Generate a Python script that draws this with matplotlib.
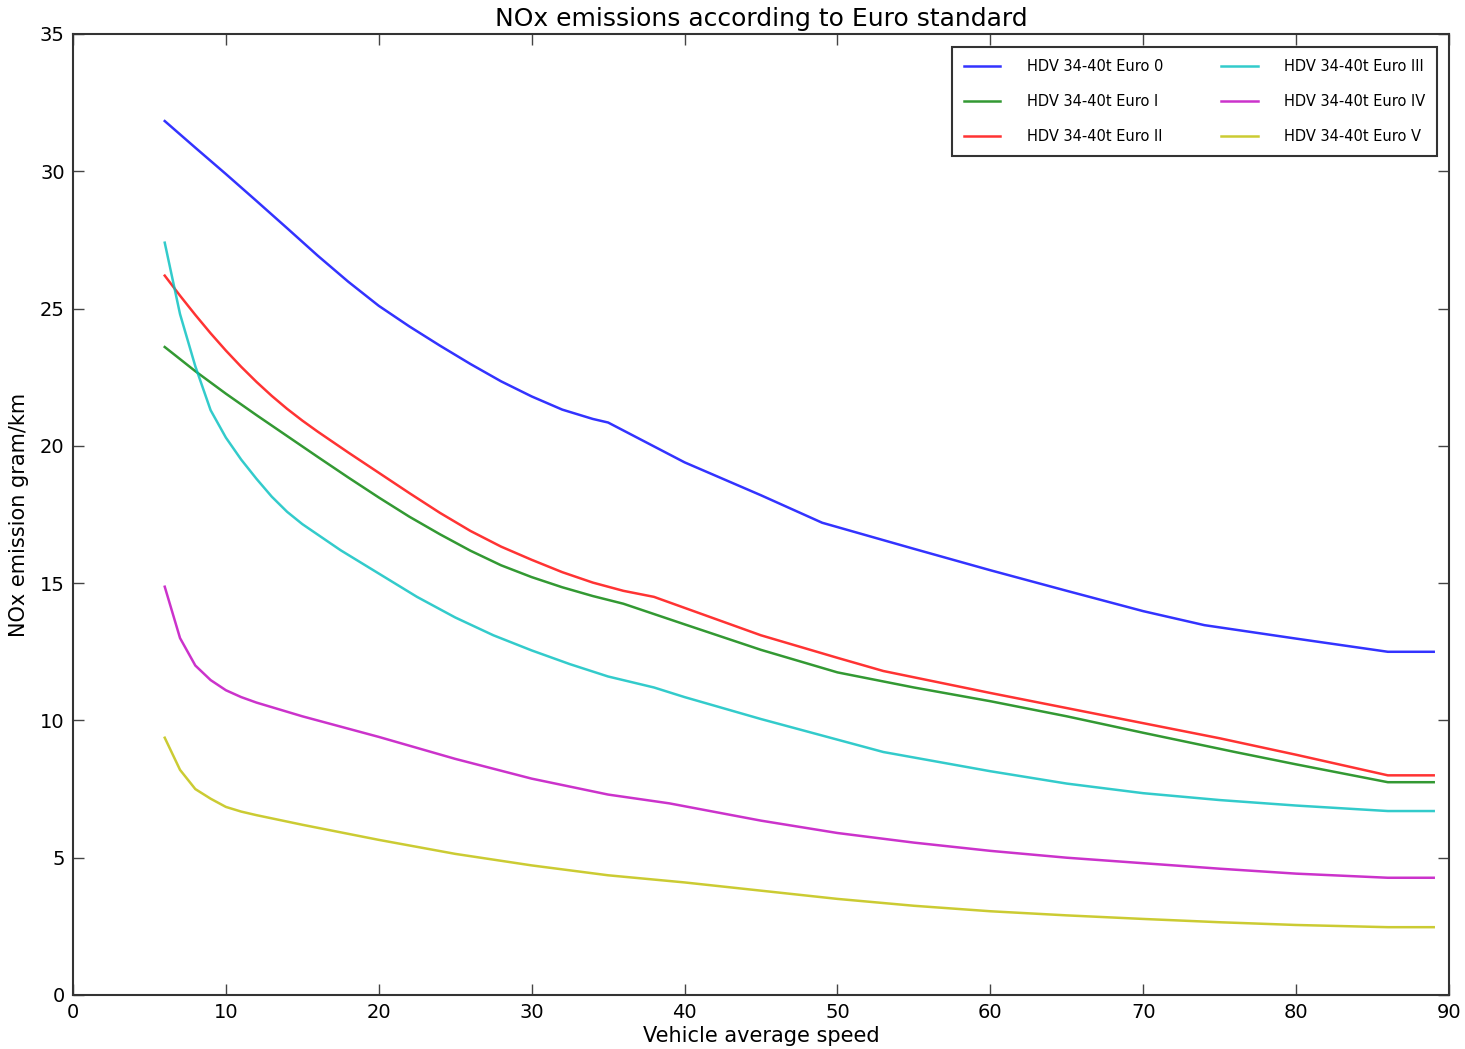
import matplotlib
matplotlib.use("Agg")
from matplotlib import pyplot as plt

# values (speed km/h -> NOx g/km)
speed_e0 = [6, 8, 10, 12, 14, 16, 18, 20, 22, 24, 26, 28, 30, 32, 34, 35, 40, 45, 49,
            55, 60, 65, 70, 74, 80, 86, 89]
nox_e0 = [31.83, 30.86, 29.9, 28.92, 27.93, 26.93, 25.98, 25.1, 24.35, 23.65, 22.98,
          22.35, 21.8, 21.32, 20.98, 20.85, 19.4, 18.2, 17.2, 16.25, 15.47, 14.72, 13.98,
          13.47, 12.98, 12.5, 12.5]

speed_e1 = [6, 8, 10, 12, 14, 16, 18, 20, 22, 24, 26, 28, 30, 32, 34, 36, 40, 45,
            50, 55, 60, 65, 70, 76, 80, 86, 89]
nox_e1 = [23.6, 22.72, 21.9, 21.12, 20.36, 19.6, 18.85, 18.12, 17.42, 16.78, 16.18,
          15.65, 15.22, 14.85, 14.53, 14.25, 13.5, 12.57, 11.75, 11.2, 10.7, 10.15,
          9.55, 8.85, 8.4, 7.75, 7.75]

speed_e2 = [6, 7, 8, 9, 10, 11, 12, 13, 14, 15, 16, 18, 20, 22, 24, 26, 28, 30, 32,
            34, 36, 38, 40, 45, 50, 53, 60, 65, 70, 75, 80, 86, 89]
nox_e2 = [26.2, 25.47, 24.77, 24.1, 23.47, 22.88, 22.33, 21.82, 21.35, 20.92, 20.52,
          19.76, 19.02, 18.28, 17.56, 16.9, 16.33, 15.85, 15.4, 15.02, 14.72, 14.5,
          14.1, 13.1, 12.28, 11.8, 11.0, 10.45, 9.9, 9.35, 8.75, 8.0, 8.0]

speed_e3 = [6, 7, 8, 9, 10, 11, 12, 13, 14, 15, 17.5, 20, 22.5, 25, 27.5, 30, 32.5,
            35, 38, 40, 45, 50, 53, 60, 65, 70, 75, 80, 86, 89]
nox_e3 = [27.4, 24.8, 22.9, 21.3, 20.3, 19.5, 18.8, 18.15, 17.6, 17.15, 16.2, 15.35,
          14.5, 13.75, 13.1, 12.55, 12.05, 11.6, 11.2, 10.85, 10.05, 9.3, 8.85,
          8.15, 7.7, 7.35, 7.1, 6.9, 6.7, 6.7]

speed_e4 = [6, 7, 8, 9, 10, 11, 12, 15, 20, 25, 30, 35, 39, 45, 50, 55, 60, 65, 70,
            75, 80, 86, 89]
nox_e4 = [14.87, 13.0, 12.0, 11.47, 11.1, 10.85, 10.65, 10.15, 9.4, 8.6, 7.88, 7.3,
          6.98, 6.35, 5.9, 5.55, 5.25, 5.0, 4.8, 4.6, 4.42, 4.27, 4.27]

speed_e5 = [6, 7, 8, 9, 10, 11, 12, 15, 20, 25, 30, 35, 40, 45, 50, 55, 60, 65, 70,
            75, 80, 86, 89]
nox_e5 = [9.37, 8.2, 7.5, 7.15, 6.85, 6.68, 6.55, 6.2, 5.65, 5.14, 4.72, 4.36, 4.1,
          3.8, 3.5, 3.25, 3.05, 2.9, 2.77, 2.65, 2.55, 2.47, 2.47]

labels = ["HDV 34-40t Euro 0", "HDV 34-40t Euro I", "HDV 34-40t Euro II",
          "HDV 34-40t Euro III", "HDV 34-40t Euro IV", "HDV 34-40t Euro V"]
colors = ["b", "g", "r", "c", "m", "y"]

series = [(speed_e0, nox_e0), (speed_e1, nox_e1), (speed_e2, nox_e2),
          (speed_e3, nox_e3), (speed_e4, nox_e4), (speed_e5, nox_e5)]

fig = plt.figure(figsize=(14.65, 10.49), dpi=100)
ax = fig.add_axes([73 / 1465, 54 / 1049, 1376 / 1465, 961 / 1049])

for (xs, ys), lab, col in zip(series, labels, colors):
    ax.plot(xs, ys, color=col, label=lab, lw=1.8, alpha=0.8)

ax.set_xlim(0, 90)
ax.set_ylim(0, 35)
ax.set_title("NOx emissions according to Euro standard", fontsize=18, pad=6)
ax.set_xlabel("Vehicle average speed", fontsize=15, labelpad=3)
ax.set_ylabel("NOx emission gram/km", fontsize=15, labelpad=8)

ax.tick_params(direction="in", top=True, right=True, length=8, width=1,
               labelsize=14, pad=6, color="#444444")
for sp in ax.spines.values():
    sp.set_linewidth(1.5)
    sp.set_color("#333333")

leg = ax.legend(loc="upper right", ncol=2, fontsize=10.5, fancybox=False,
                handlelength=2.5, handletextpad=1.8, columnspacing=4.0,
                labelspacing=1.4, borderpad=0.8, borderaxespad=0,
                bbox_to_anchor=(0.9913, 0.9865))
leg.get_frame().set_edgecolor("black")
leg.get_frame().set_linewidth(1.5)

fig.savefig("out.png", dpi=100, facecolor="white")
